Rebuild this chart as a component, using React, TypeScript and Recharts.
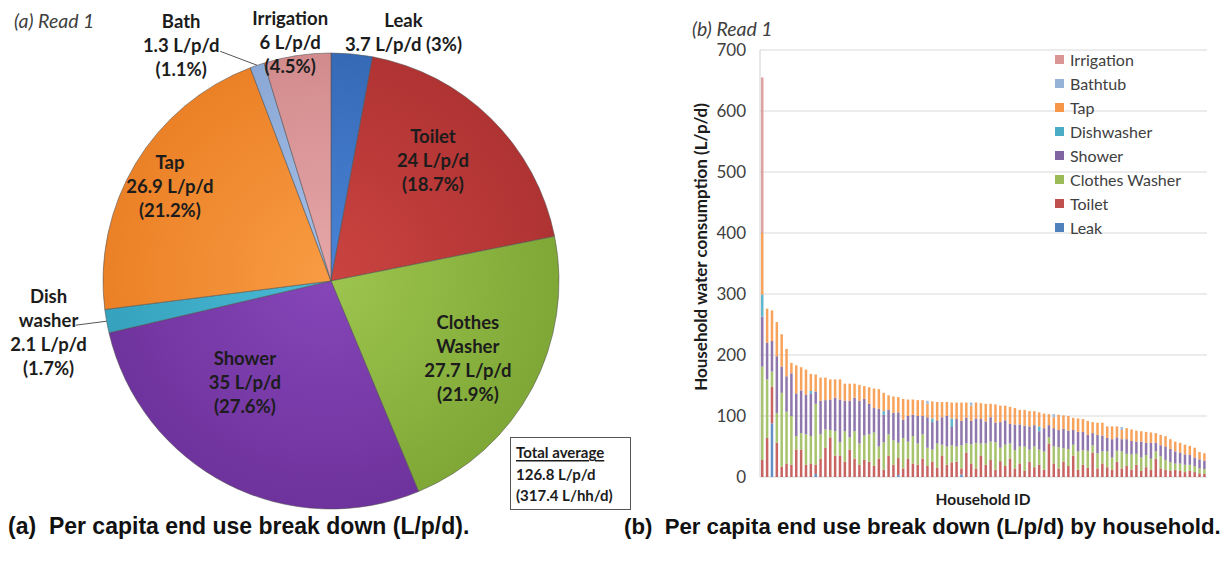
import React from 'react';
import { PieChart, Pie, Cell, BarChart, Bar, XAxis, YAxis, CartesianGrid, Legend } from 'recharts';

// ---------- Panel (a): per capita end use break down ----------
const pieNames = ['Leak', 'Toilet', 'Clothes Washer', 'Shower', 'Dish washer', 'Tap', 'Bath', 'Irrigation'];
const pieNameLines = [['Leak'], ['Toilet'], ['Clothes', 'Washer'], ['Shower'], ['Dish', 'washer'], ['Tap'], ['Bath'], ['Irrigation']];
const pieValues = [3.7, 24, 27.7, 35, 2.1, 26.9, 1.3, 6];
const piePercents = ['3%', '18.7%', '21.9%', '27.6%', '1.7%', '21.2%', '1.1%', '4.5%'];
const totalLines = ['Total average', '126.8 L/p/d', '(317.4 L/hh/d)'];

// ---------- Panel (b): per capita end use by household ----------
const leak = [
  0, 0, 88, 0, 0, 0, 0, 0, 0, 0,
  0, 5, 0, 0, 0, 0, 0, 0, 0, 0,
  0, 0, 0, 0, 0, 0, 0, 0, 3, 0,
  0, 0, 0, 0, 0, 0, 0, 0, 0, 0,
  0, 4, 0, 0, 0, 0, 0, 0, 0, 0,
  0, 0, 0, 0, 0, 0, 0, 0, 0, 0,
  0, 0, 0, 0, 0, 0, 0, 0, 0, 0,
  0, 0, 0, 0, 0, 0, 0, 0, 0, 0,
  0, 0, 0, 0, 0, 0, 0, 0, 0, 0,
  0, 0,
];
const toilet = [
  28, 64, 60, 56, 17, 22, 20, 45, 45, 20,
  22, 15, 30, 48, 65, 35, 35, 25, 45, 30,
  20, 28, 25, 18, 30, 12, 35, 20, 28, 14,
  30, 22, 20, 30, 18, 25, 15, 35, 20, 24,
  25, 10, 40, 22, 14, 35, 20, 28, 12, 26,
  18, 30, 14, 22, 10, 25, 16, 20, 12, 55,
  22, 14, 25, 18, 35, 12, 20, 15, 40, 14,
  22, 16, 12, 25, 14, 18, 12, 20, 10, 16,
  12, 30, 14, 12, 10, 12, 10, 8, 10, 8,
  6, 5,
];
const clothesWasher = [
  153, 96, 25, 49, 121, 85, 80, 22, 27, 50,
  45, 100, 40, 30, 12, 40, 22, 50, 20, 45,
  35, 40, 45, 55, 20, 45, 35, 40, 25, 50,
  28, 45, 35, 40, 30, 20, 40, 18, 30, 28,
  25, 38, 15, 32, 42, 20, 35, 30, 45, 22,
  35, 25, 30, 28, 40, 20, 34, 25, 30, 10,
  28, 35, 22, 28, 18, 30, 24, 28, 12, 25,
  20, 26, 20, 18, 28, 20, 25, 18, 22, 20,
  18, 12, 20, 16, 14, 10, 12, 12, 10, 10,
  8, 8,
];
const shower = [
  82, 60, 50, 93, 43, 58, 70, 70, 70, 65,
  70, 20, 55, 48, 50, 55, 70, 50, 60, 55,
  70, 60, 50, 40, 62, 45, 40, 45, 50, 30,
  42, 35, 45, 30, 50, 45, 38, 45, 50, 30,
  45, 40, 42, 38, 40, 40, 36, 40, 32, 42,
  40, 32, 42, 36, 34, 38, 35, 30, 38, 20,
  30, 28, 32, 30, 24, 32, 30, 26, 20, 30,
  26, 22, 30, 22, 20, 24, 22, 20, 26, 20,
  26, 14, 18, 22, 22, 20, 18, 17, 16, 14,
  15, 14,
];
const dishwasher = [
  36, 0, 0, 0, 0, 0, 0, 0, 0, 0,
  4, 0, 0, 0, 0, 0, 0, 0, 0, 0,
  0, 0, 0, 0, 0, 6, 0, 0, 0, 0,
  0, 0, 0, 0, 0, 6, 0, 0, 0, 14,
  0, 0, 0, 0, 0, 0, 0, 0, 0, 0,
  0, 0, 0, 0, 0, 0, 0, 8, 0, 0,
  0, 0, 0, 0, 0, 0, 0, 0, 0, 0,
  0, 0, 0, 0, 0, 0, 0, 0, 0, 0,
  0, 0, 0, 0, 0, 0, 0, 0, 0, 0,
  0, 0,
];
const tap = [
  101, 56, 50, 56, 53, 45, 17, 46, 38, 41,
  28, 28, 38, 37, 33, 30, 33, 28, 28, 23,
  26, 21, 27, 32, 32, 30, 24, 27, 25, 34,
  27, 25, 26, 26, 22, 28, 30, 25, 23, 26,
  27, 30, 25, 25, 26, 26, 29, 22, 30, 27,
  24, 28, 27, 24, 26, 25, 23, 23, 24, 18,
  18, 25, 22, 24, 20, 22, 21, 23, 18, 20,
  21, 19, 21, 18, 15, 18, 19, 18, 17, 18,
  17, 16, 17, 17, 16, 16, 16, 16, 15, 16,
  12, 12,
];
const bathtub = [
  0, 0, 0, 0, 0, 0, 0, 0, 0, 0,
  0, 0, 0, 0, 0, 0, 0, 0, 0, 0,
  0, 0, 0, 0, 0, 0, 0, 0, 0, 0,
  0, 0, 0, 0, 5, 0, 0, 0, 0, 0,
  0, 0, 0, 5, 0, 0, 0, 0, 0, 0,
  0, 0, 0, 0, 0, 0, 0, 0, 0, 0,
  5, 0, 0, 0, 0, 0, 0, 0, 0, 0,
  0, 0, 0, 0, 5, 0, 0, 0, 0, 0,
  0, 0, 0, 0, 0, 0, 0, 0, 0, 0,
  0, 0,
];
const irrigation = [
  255, 0, 0, 0, 0, 0, 0, 0, 0, 0,
  0, 0, 0, 0, 0, 0, 0, 0, 0, 0,
  0, 0, 0, 0, 0, 0, 0, 0, 0, 0,
  0, 0, 0, 0, 0, 0, 0, 0, 0, 0,
  0, 0, 0, 0, 0, 0, 0, 0, 0, 0,
  0, 0, 0, 0, 0, 0, 0, 0, 0, 0,
  0, 0, 0, 0, 0, 0, 0, 0, 0, 0,
  0, 0, 0, 0, 0, 0, 0, 0, 0, 0,
  0, 0, 0, 0, 0, 0, 0, 0, 0, 0,
  0, 0,
];
const yTicks = [0, 100, 200, 300, 400, 500, 600, 700];
const barSeriesNames = ['Leak', 'Toilet', 'Clothes Washer', 'Shower', 'Dishwasher', 'Tap', 'Bathtub', 'Irrigation'];
const barSeriesValues = [leak, toilet, clothesWasher, shower, dishwasher, tap, bathtub, irrigation];

// ---------- styling (not data) ----------
const pieGrad = [
  ['#4A84D6', '#3569B6'],
  ['#CA4441', '#B03333'],
  ['#9DC64F', '#80A837'],
  ['#8646B8', '#6F339D'],
  ['#4BBBD6', '#35A1BD'],
  ['#F89B42', '#EB8026'],
  ['#A5C0E8', '#8AA7D5'],
  ['#E6A6A8', '#D28B8D'],
];
const barColors = ['#4F81BD', '#C0504D', '#9BBB59', '#8064A2', '#4BACC6', '#F79646', '#95B3D7', '#D99694'];
// per-slice label placement: polar radius + offset, optional leader end (relative to label centre)
const pieLabelLayout = [
  { r: 245, dx: 50, dy: -5, inline: true },
  { r: 158, dx: -9, dy: -9 },
  { r: 163, dx: -7, dy: 0 },
  { r: 134, dx: -25, dy: -18 },
  { r: 228, dx: -58, dy: 11, leader: [27, -7] },
  { r: 181, dx: -6, dy: -2 },
  { r: 228, dx: -76, dy: -20, leader: [39, 6] },
  { r: 235, dx: -6, dy: -7 },
];

const FONT = 'Lato, "Open Sans", sans-serif';
const CAPTION_FONT = '"Liberation Sans", Arial, sans-serif';
const PIE_CX = 326;
const PIE_CY = 276;
const PIE_R = 228;

const pieData = pieNames.map((name, i) => ({ name, value: pieValues[i] }));
const households = leak.map((_, i) => `HH${i + 1}`);
const barData = households.map((id, i) => {
  const row: Record<string, string | number> = { id };
  barSeriesNames.forEach((s, k) => {
    row[s] = barSeriesValues[k][i];
  });
  return row;
});

const RAD = Math.PI / 180;

const renderPieLabel = (props: any) => {
  const { cx, cy, midAngle, outerRadius, index } = props;
  const lay = pieLabelLayout[index];
  const cos = Math.cos(-midAngle * RAD);
  const sin = Math.sin(-midAngle * RAD);
  const x = cx + lay.r * cos + lay.dx;
  const y = cy + lay.r * sin + lay.dy;
  const valueText = `${pieValues[index]} L/p/d`;
  const pctText = `(${piePercents[index]})`;
  const lines = lay.inline
    ? [...pieNameLines[index], `${valueText} ${pctText}`]
    : [...pieNameLines[index], valueText, pctText];
  const lh = 24;
  const y0 = y - ((lines.length - 1) * lh) / 2;
  return (
    <g key={`lbl-${index}`}>
      {lay.leader && (
        <line
          x1={x + lay.leader[0]}
          y1={y + lay.leader[1]}
          x2={cx + outerRadius * cos}
          y2={cy + outerRadius * sin}
          stroke="#555"
          strokeWidth={1}
        />
      )}
      {lines.map((t, k) => (
        <text
          key={k}
          x={x}
          y={y0 + k * lh}
          textAnchor="middle"
          dominantBaseline="central"
          fontFamily={FONT}
          fontWeight={700}
          fontSize={18.5}
          fill="#1c1c1c"
        >
          {t}
        </text>
      ))}
    </g>
  );
};

const renderLegend = () => (
  <div style={{ fontFamily: FONT, fontSize: 16, color: '#404040' }}>
    {barSeriesNames
      .map((name, i) => ({ name, color: barColors[i] }))
      .reverse()
      .map((s) => (
        <div key={s.name} style={{ display: 'flex', alignItems: 'center', height: 24 }}>
          <span style={{ display: 'inline-block', width: 9, height: 9, background: s.color, marginRight: 6 }} />
          <span>{s.name}</span>
        </div>
      ))}
  </div>
);

export default function App() {
  return (
    <div
      style={{
        position: 'absolute',
        left: 0,
        top: 0,
        width: 1232,
        height: 562,
        background: '#ffffff',
        overflow: 'hidden',
      }}
    >
      {/* Panel (a) */}
      <div style={{ position: 'absolute', left: 0, top: 0 }}>
        <PieChart width={660} height={515}>
          <defs>
            {pieGrad.map((g, i) => (
              <radialGradient
                key={i}
                id={`pg${i}`}
                gradientUnits="userSpaceOnUse"
                cx={PIE_CX}
                cy={PIE_CY}
                r={PIE_R}
              >
                <stop offset="0%" stopColor={g[0]} />
                <stop offset="100%" stopColor={g[1]} />
              </radialGradient>
            ))}
          </defs>
          <Pie
            data={pieData}
            dataKey="value"
            nameKey="name"
            cx={PIE_CX}
            cy={PIE_CY}
            outerRadius={PIE_R}
            startAngle={90}
            endAngle={-270}
            stroke="rgba(80,80,80,0.55)"
            strokeWidth={1}
            label={renderPieLabel}
            labelLine={false}
            isAnimationActive={false}
          >
            {pieData.map((d, i) => (
              <Cell key={d.name} fill={`url(#pg${i})`} />
            ))}
          </Pie>
        </PieChart>
      </div>

      {/* Panel (b) */}
      <div style={{ position: 'absolute', left: 0, top: 0 }}>
        <BarChart
          width={1232}
          height={562}
          data={barData}
          margin={{ top: 50, right: 25, bottom: 85, left: 700 }}
          barSize={2.5}
        >
          <CartesianGrid vertical={false} stroke="#d9d9d9" />
          <XAxis dataKey="id" tick={false} tickLine={false} height={0} axisLine={{ stroke: '#d9d9d9' }} />
          <YAxis
            width={60}
            domain={[0, 700]}
            ticks={yTicks}
            tickLine={false}
            tickMargin={8}
            axisLine={{ stroke: '#d0d0d0' }}
            tick={{ fill: '#404040', fontSize: 17, fontFamily: FONT }}
          />
          <Legend
            content={renderLegend}
            layout="vertical"
            align="center"
            verticalAlign="middle"
            wrapperStyle={{ position: 'absolute', left: 1055, top: 47, width: 170 }}
          />
          {barSeriesNames.map((s, i) => (
            <Bar
              key={s}
              dataKey={s}
              stackId="a"
              fill={barColors[i]}
              fillOpacity={0.88}
              isAnimationActive={false}
            />
          ))}
        </BarChart>
      </div>

      {/* titles, captions, note box */}
      <svg
        width={1232}
        height={562}
        style={{ position: 'absolute', left: 0, top: 0, pointerEvents: 'none' }}
      >
        <text x={14} y={20} dominantBaseline="central" fontFamily={FONT} fontStyle="italic" fontSize={19.5} fill="#404040">
          (a) Read 1
        </text>
        <text x={692} y={28} dominantBaseline="central" fontFamily={FONT} fontStyle="italic" fontSize={19.5} fill="#404040">
          (b) Read 1
        </text>
        <text
          x={700}
          y={247}
          transform="rotate(-90, 700, 247)"
          textAnchor="middle"
          dominantBaseline="central"
          fontFamily={FONT}
          fontWeight={700}
          fontSize={17}
          fill="#1c1c1c"
        >
          Household water consumption (L/p/d)
        </text>
        <text x={983} y={499} textAnchor="middle" dominantBaseline="central" fontFamily={FONT} fontWeight={700} fontSize={15.5} fill="#1c1c1c">
          Household ID
        </text>
        <rect x={510.5} y={437.5} width={120} height={72} fill="#fff" stroke="#555" strokeWidth={1} />
        {totalLines.map((t, k) => (
          <text
            key={k}
            x={516}
            y={452 + k * 21.5}
            dominantBaseline="central"
            fontFamily={FONT}
            fontWeight={700}
            fontSize={15}
            fill="#1c1c1c"
            style={k === 0 ? { textDecoration: 'underline' } : undefined}
          >
            {t}
          </text>
        ))}
        <text
          x={8}
          y={526}
          dominantBaseline="central"
          fontFamily={CAPTION_FONT}
          fontWeight={700}
          fontSize={23}
          fill="#111"
          xmlSpace="preserve"
        >
          (a)  Per capita end use break down (L/p/d).
        </text>
        <text
          x={624}
          y={526}
          dominantBaseline="central"
          fontFamily={CAPTION_FONT}
          fontWeight={700}
          fontSize={22.2}
          fill="#111"
          xmlSpace="preserve"
        >
          (b)  Per capita end use break down (L/p/d) by household.
        </text>
      </svg>
    </div>
  );
}
